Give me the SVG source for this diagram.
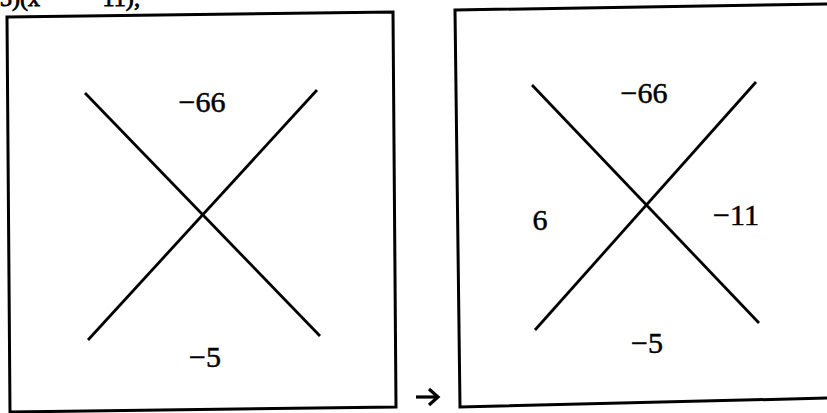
<svg xmlns="http://www.w3.org/2000/svg" width="827" height="413" viewBox="0 0 827 413">
<style>
.box{fill:none;stroke:#000;stroke-width:3}
.ln{stroke:#000;stroke-width:2.8;stroke-linecap:butt}
.lbl{font-family:"Liberation Serif","Times New Roman",serif;font-size:30px;fill:#000;stroke:#000;stroke-width:0.5}
.cut{font-family:"Liberation Serif","Times New Roman",serif;font-size:24px;fill:#000;stroke:#000;stroke-width:0.8}
.arr{stroke:#000;stroke-width:3.2;fill:none}
</style>
<rect width="827" height="413" fill="#fff"/>
<text class="cut" x="0" y="6">3)(x<tspan x="83">− 11);</tspan></text>
<g id="box1">
<polygon class="box" points="7,17 393,12 396,407 10,412"/>
<line class="ln" x1="85" y1="93" x2="320" y2="336"/>
<line class="ln" x1="317" y1="90" x2="88" y2="340"/>
<text class="lbl" x="202" y="112" text-anchor="middle">−66</text>
<text class="lbl" x="205" y="367" text-anchor="middle">−5</text>
</g>
<g id="box2">
<polygon class="box" points="455,10 829,4 829,398 460,407"/>
<line class="ln" x1="532" y1="85" x2="759" y2="323"/>
<line class="ln" x1="756" y1="82" x2="535" y2="330"/>
<text class="lbl" x="644" y="103" text-anchor="middle">−66</text>
<text class="lbl" x="540" y="230" text-anchor="middle">6</text>
<text class="lbl" x="736" y="225" text-anchor="middle">−11</text>
<text class="lbl" x="647" y="353" text-anchor="middle">−5</text>
</g>
<g id="connectors">
<line class="arr" x1="416" y1="397" x2="437" y2="397"/>
<polyline class="arr" points="429,389 438,397 429,405"/>
</g>
</svg>
